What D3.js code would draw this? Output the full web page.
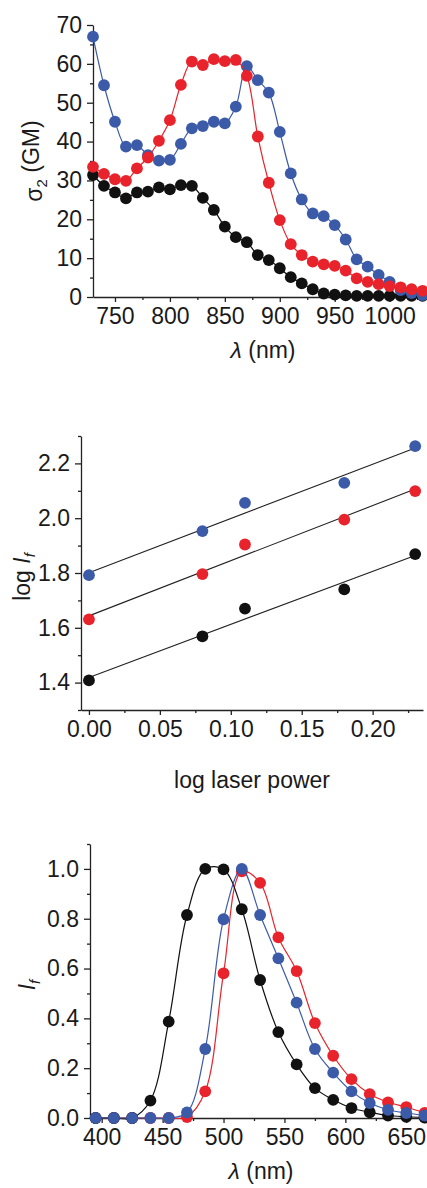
<!DOCTYPE html>
<html>
<head>
<meta charset="utf-8">
<script src="https://cdn.jsdelivr.net/npm/d3@7"></script>
<style>
body { margin: 0; background: #fff; }
text { font-family: "Liberation Sans", Arial, sans-serif; }
</style>
</head>
<body>
<div id="chart"></div>
<script>
// ---- panel 1: two-photon cross section
var tpaWavelength = [730, 740, 750, 760, 770, 780, 790, 800, 810, 820, 830, 840, 850, 860, 870, 880, 890, 900, 910, 920, 930, 940, 950, 960, 970, 980, 990, 1000, 1010, 1020, 1030];
var tpaBlack = [31.4, 28.6, 26.9, 25.4, 26.9, 27.1, 28.2, 27.7, 28.8, 28.6, 25.5, 22.4, 18.1, 15.4, 14.1, 10.8, 9.5, 7.4, 5.1, 3.5, 2.0, 0.9, 0.6, 0.4, 0.3, 0.3, 0.3, 0.3, 0.3, 0.3, 0.3];
var tpaBlue = [67.0, 54.5, 45.1, 38.7, 39.1, 36.5, 35.1, 35.3, 39.4, 43.4, 44.0, 45.1, 44.7, 49.0, 59.4, 55.8, 52.6, 42.5, 31.8, 25.1, 21.5, 20.8, 18.5, 14.8, 9.7, 7.8, 5.7, 3.9, 1.8, 1.0, 0.5];
var tpaRed = [33.5, 31.7, 30.3, 29.9, 33.1, 35.9, 40.2, 45.5, 54.6, 60.6, 59.7, 61.2, 60.7, 61.0, 56.9, 41.3, 29.4, 19.8, 13.6, 10.8, 9.1, 8.4, 8.0, 6.8, 4.8, 3.9, 3.3, 2.8, 2.5, 2.0, 1.6];
var tpaXTicks = [750, 800, 850, 900, 950, 1000];
var tpaYTicks = [0, 10, 20, 30, 40, 50, 60, 70];

// ---- panel 2: log intensity vs log laser power
var laserPower = [0, 0.08, 0.11, 0.18, 0.23];
var logBlack = [1.408, 1.569, 1.670, 1.740, 1.869];
var logRed = [1.631, 1.796, 1.904, 1.995, 2.099];
var logBlue = [1.792, 1.953, 2.056, 2.129, 2.263];
var powerXTicks = [0, 0.05, 0.10, 0.15, 0.20];
var powerYTicks = [1.4, 1.6, 1.8, 2.0, 2.2];

// ---- panel 3: emission spectra
var emWavelength = [395, 410, 425, 440, 455, 470, 485, 500, 515, 530, 545, 560, 575, 590, 605, 620, 635, 650, 665];
var emBlack = [0, 0, 0, 0.07, 0.387, 0.815, 1.0, 0.998, 0.838, 0.554, 0.345, 0.215, 0.12, 0.073, 0.04, 0.023, 0.01, 0.005, 0.002];
var emBlue = [0, 0, 0, 0, 0, 0.022, 0.277, 0.798, 1.0, 0.815, 0.641, 0.463, 0.277, 0.182, 0.107, 0.06, 0.033, 0.02, 0.01];
var emRed = [0, 0, 0, 0, 0, 0.004, 0.107, 0.581, 0.99, 0.944, 0.725, 0.59, 0.381, 0.25, 0.156, 0.096, 0.063, 0.044, 0.02];
var emXTicks = [400, 450, 500, 550, 600, 650];
var emYTicks = [0, 0.2, 0.4, 0.6, 0.8, 1.0];

var BLACK = "#111111", BLUE = "#3b5aa8", RED = "#e8232b";
var FONT = 23;

var svg = d3.select("#chart")
	.append("svg")
	.attr("width", 427)
	.attr("height", 1188);

// axes with major + minor ticks (minor ticks halfway between majors)
function drawAxes(x, y, xTicks, yTicks, xFmt, yFmt) {
	var xStep = xTicks[1] - xTicks[0], yStep = yTicks[1] - yTicks[0];
	var xd = x.domain(), yd = y.domain();
	var xMinor = [], yMinor = [];
	for (var i = -1; i < xTicks.length; i++) {
		var v = xTicks[0] + (i + 0.5) * xStep;
		if (v >= xd[0] - 1e-9 && v <= xd[1] + 1e-9) xMinor.push(v);
	}
	for (var j = -1; j < yTicks.length; j++) {
		var w = yTicks[0] + (j + 0.5) * yStep;
		if (w >= yd[0] - 1e-9 && w <= yd[1] + 1e-9) yMinor.push(w);
	}
	var bottom = y.range()[0], left = x.range()[0];

	svg.append("g")
		.attr("transform", "translate(0," + bottom + ")")
		.call(d3.axisBottom(x).tickValues(xMinor).tickFormat("").tickSize(3).tickSizeOuter(0))
		.call(g => g.select(".domain").remove());
	svg.append("g")
		.attr("transform", "translate(" + left + ",0)")
		.call(d3.axisLeft(y).tickValues(yMinor).tickFormat("").tickSize(3).tickSizeOuter(0))
		.call(g => g.select(".domain").remove());

	var gx = svg.append("g")
		.attr("transform", "translate(0," + bottom + ")")
		.call(d3.axisBottom(x).tickValues(xTicks).tickFormat(xFmt).tickSize(5).tickPadding(6).tickSizeOuter(0));
	var gy = svg.append("g")
		.attr("transform", "translate(" + left + ",0)")
		.call(d3.axisLeft(y).tickValues(yTicks).tickFormat(yFmt).tickSize(6).tickPadding(5).tickSizeOuter(0));

	[gx, gy].forEach(function (g) {
		g.selectAll("text").attr("font-size", FONT).attr("fill", "#1a1a1a").attr("font-family", null);
		g.attr("font-family", null);
	});
	svg.selectAll(".domain, .tick line").attr("stroke", "#222").attr("stroke-width", 1.3);
}

function drawSeries(x, y, xs, ys, color, smooth) {
	var pts = d3.zip(xs, ys);
	if (smooth) {
		svg.append("path")
			.datum(pts)
			.attr("fill", "none")
			.attr("stroke", color)
			.attr("stroke-width", 1.2)
			.attr("d", d3.line().x(d => x(d[0])).y(d => y(d[1])).curve(d3.curveCatmullRom));
	}
	svg.append("g")
		.selectAll("circle")
		.data(pts)
		.enter()
		.append("circle")
		.attr("cx", d => x(d[0]))
		.attr("cy", d => y(d[1]))
		.attr("r", 5.9)
		.attr("fill", color);
}

function yLabel(cx, cy, build) {
	var t = svg.append("text")
		.attr("transform", "translate(" + cx + "," + cy + ") rotate(-90)")
		.attr("text-anchor", "middle")
		.attr("font-size", FONT)
		.attr("fill", "#1a1a1a");
	build(t);
}

function lambdaLabel(cx, baseline) {
	var t = svg.append("text")
		.attr("x", cx).attr("y", baseline)
		.attr("text-anchor", "middle")
		.attr("font-size", FONT)
		.attr("fill", "#1a1a1a");
	t.append("tspan").attr("font-style", "italic").text("λ");
	t.append("tspan").text(" (nm)");
}

// ================= panel 1 =================
var x1 = d3.scaleLinear().domain([730, 1034]).range([93, 427]);
var y1 = d3.scaleLinear().domain([0, 70]).range([297, 25]);
drawAxes(x1, y1, tpaXTicks, tpaYTicks, d3.format("d"), d3.format("d"));
drawSeries(x1, y1, tpaWavelength, tpaBlack, BLACK, true);
drawSeries(x1, y1, tpaWavelength, tpaBlue, BLUE, true);
drawSeries(x1, y1, tpaWavelength, tpaRed, RED, true);
yLabel(42, 161, function (t) {
	t.append("tspan").text("σ");
	t.append("tspan").attr("font-size", 15).attr("dy", "0.35em").text("2");
	t.append("tspan").attr("dy", "-0.35em").text(" (GM)");
});
lambdaLabel(263, 358);

// ================= panel 2 =================
var x2 = d3.scaleLinear().domain([-0.0056, 0.2355]).range([81, 423]);
var y2 = d3.scaleLinear().domain([1.3, 2.3]).range([710, 436]);
drawAxes(x2, y2, powerXTicks, powerYTicks, d3.format(".2f"), d3.format(".1f"));

// least-squares fit lines
function fit(xs, ys) {
	var mx = d3.mean(xs), my = d3.mean(ys);
	var sxy = d3.sum(xs, (v, i) => (v - mx) * (ys[i] - my));
	var sxx = d3.sum(xs, v => (v - mx) * (v - mx));
	var b = sxy / sxx;
	return function (v) { return my + b * (v - mx); };
}
[logBlack, logRed, logBlue].forEach(function (ys) {
	var f = fit(laserPower, ys);
	var ends = d3.extent(laserPower);
	svg.append("line")
		.attr("x1", x2(ends[0])).attr("y1", y2(f(ends[0])))
		.attr("x2", x2(ends[1])).attr("y2", y2(f(ends[1])))
		.attr("stroke", "#222")
		.attr("stroke-width", 1.1);
});
drawSeries(x2, y2, laserPower, logBlack, BLACK, false);
drawSeries(x2, y2, laserPower, logRed, RED, false);
drawSeries(x2, y2, laserPower, logBlue, BLUE, false);
yLabel(30, 577, function (t) {
	t.append("tspan").text("log ");
	t.append("tspan").attr("font-style", "italic").text("I");
	t.append("tspan").attr("font-style", "italic").attr("font-size", 15).attr("dy", "0.3em").text("f");
});
svg.append("text")
	.attr("x", 252).attr("y", 788)
	.attr("text-anchor", "middle")
	.attr("font-size", FONT)
	.attr("fill", "#1a1a1a")
	.text("log laser power");

// ================= panel 3 =================
var x3 = d3.scaleLinear().domain([390.4, 667]).range([90, 427]);
var y3 = d3.scaleLinear().domain([0, 1.1]).range([1118, 844]);
drawAxes(x3, y3, emXTicks, emYTicks, d3.format("d"), d3.format(".1f"));
drawSeries(x3, y3, emWavelength, emRed, RED, true);
drawSeries(x3, y3, emWavelength, emBlack, BLACK, true);
drawSeries(x3, y3, emWavelength, emBlue, BLUE, true);
yLabel(35, 985, function (t) {
	t.append("tspan").attr("font-style", "italic").text("I");
	t.append("tspan").attr("font-style", "italic").attr("font-size", 15).attr("dy", "0.3em").text("f");
});
lambdaLabel(261, 1179);
</script>
</body>
</html>
